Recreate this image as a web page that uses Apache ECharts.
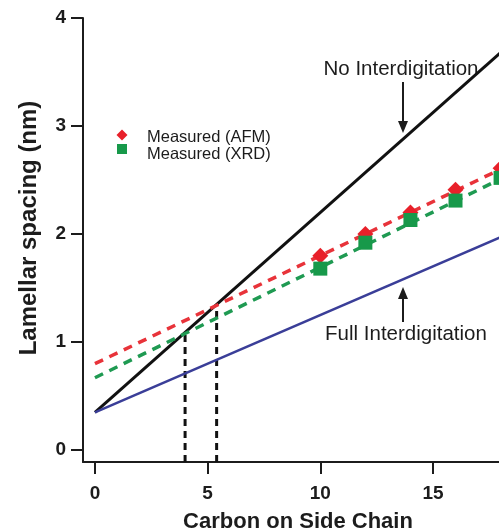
<!DOCTYPE html>
<html>
<head>
<meta charset="utf-8">
<script src="https://cdn.jsdelivr.net/npm/echarts@6/dist/echarts.min.js"></script>
<style>
  html, body { margin: 0; padding: 0; background: #fff; }
  #chart { width: 499px; height: 531px; }
</style>
</head>
<body>
<div id="chart"></div>
<script>
// Tick positions
const xTicks = [0, 5, 10, 15];
const yTicks = [0, 1, 2, 3, 4];

// Measured lamellar spacing vs. number of side-chain carbons
const chainCarbons = [10, 12, 14, 16, 18];
const afmSpacing = [1.80, 2.00, 2.20, 2.41, 2.61];
const xrdSpacing = [1.68, 1.92, 2.13, 2.31, 2.52];

// Model lines and linear fits, given at both ends of the carbon range
const lineX = [0, 18];
const noInterY = [0.35, 3.68];
const fullInterY = [0.35, 1.97];
const afmFitY = [0.80, 2.60];
const xrdFitY = [0.67, 2.51];

// Crossover of the fits with the no-interdigitation line
const crossX = [4.0, 5.4];
const crossY = [1.08, 1.34];

const xMin = -0.53, xMax = 17.93;
const yMin = -0.11, yMax = 4;

const FONT = '"Liberation Sans", Arial, sans-serif';
const INK = '#1c1c1c';
const RED = '#e8202a';
const GREEN = '#17994a';

function pairs(xs, ys) { return xs.map((x, i) => [x, ys[i]]); }

const chart = echarts.init(document.getElementById('chart'), null, { renderer: 'canvas' });

const lineSeries = (name, ys, color, width, dashed, z) => ({
  name, type: 'line', data: pairs(lineX, ys), symbol: 'none', silent: true, z,
  lineStyle: { color, width, type: dashed ? [9, 7] : 'solid', cap: 'butt' }
});

const dropLines = crossX.map((x, i) => ({
  name: 'cross' + i, type: 'line', symbol: 'none', silent: true, z: 1,
  data: [[x, yMin], [x, crossY[i]]],
  lineStyle: { color: '#111', width: 3, type: [7, 5] }
}));

// Key for the two measured series
const legendKey = [
  { type: 'polygon', shape: { points: [[122, 129.5], [127.5, 135], [122, 140.5], [116.5, 135]] }, style: { fill: RED } },
  { type: 'rect', shape: { x: 117, y: 144, width: 10, height: 10 }, style: { fill: GREEN } },
  { type: 'text', x: 147, y: 137,
    style: { text: 'Measured (AFM)', font: '16.5px ' + FONT, fill: INK, align: 'left', verticalAlign: 'middle' } },
  { type: 'text', x: 147, y: 154,
    style: { text: 'Measured (XRD)', font: '16.5px ' + FONT, fill: INK, align: 'left', verticalAlign: 'middle' } }
];

chart.setOption({
  animation: false,
  backgroundColor: '#fff',
  grid: { left: 83, top: 18, right: 0, bottom: 69, containLabel: false, outerBoundsMode: 'none' },
  xAxis: {
    type: 'value', min: xMin, max: xMax,
    axisLine: { show: true, onZero: false, lineStyle: { color: INK, width: 2 } },
    axisTick: { show: true, length: 12, customValues: xTicks, lineStyle: { color: INK, width: 2 } },
    axisLabel: { customValues: xTicks, margin: 22, color: INK, fontFamily: FONT, fontSize: 19, fontWeight: 'bold' },
    splitLine: { show: false }
  },
  yAxis: {
    type: 'value', min: yMin, max: yMax,
    axisLine: { show: true, onZero: false, lineStyle: { color: INK, width: 2 } },
    axisTick: { show: true, length: 12, customValues: yTicks, lineStyle: { color: INK, width: 2 } },
    axisLabel: { customValues: yTicks, margin: 17, color: INK, fontFamily: FONT, fontSize: 19, fontWeight: 'bold' },
    splitLine: { show: false }
  },
  series: [
    ...dropLines,
    lineSeries('noInter', noInterY, '#111111', 3, false, 2),
    lineSeries('fullInter', fullInterY, '#3a3e98', 2.5, false, 2),
    lineSeries('afmFit', afmFitY, '#e8333a', 3.5, true, 3),
    lineSeries('xrdFit', xrdFitY, '#1f9a52', 3.5, true, 3),
    {
      name: 'Measured (AFM)', type: 'scatter', symbol: 'diamond', symbolSize: 16,
      clip: false, z: 4, data: pairs(chainCarbons, afmSpacing), itemStyle: { color: RED, opacity: 1 }
    },
    {
      name: 'Measured (XRD)', type: 'scatter', symbol: 'rect', symbolSize: 14,
      clip: false, z: 5, data: pairs(chainCarbons, xrdSpacing), itemStyle: { color: GREEN, opacity: 1 }
    }
  ],
  graphic: [
    ...legendKey,
    { type: 'text', x: 29, y: 228, rotation: Math.PI / 2,
      style: { text: 'Lamellar spacing (nm)', font: 'bold 24px ' + FONT, fill: INK, align: 'center', verticalAlign: 'middle' } },
    { type: 'text', x: 298, y: 522,
      style: { text: 'Carbon on Side Chain', font: 'bold 22px ' + FONT, fill: INK, align: 'center', verticalAlign: 'middle' } },
    { type: 'text', x: 401, y: 69,
      style: { text: 'No Interdigitation', font: '20.5px ' + FONT, fill: INK, align: 'center', verticalAlign: 'middle' } },
    { type: 'text', x: 406, y: 334,
      style: { text: 'Full Interdigitation', font: '20.5px ' + FONT, fill: INK, align: 'center', verticalAlign: 'middle' } },
    // arrow pointing down to the no-interdigitation line
    { type: 'line', shape: { x1: 403, y1: 82, x2: 403, y2: 124 }, style: { stroke: INK, lineWidth: 2 } },
    { type: 'polygon', shape: { points: [[398, 121], [408, 121], [403, 133]] }, style: { fill: INK } },
    // arrow pointing up to the full-interdigitation line
    { type: 'line', shape: { x1: 403, y1: 322, x2: 403, y2: 296 }, style: { stroke: INK, lineWidth: 2 } },
    { type: 'polygon', shape: { points: [[398, 299], [408, 299], [403, 287]] }, style: { fill: INK } }
  ]
});
</script>
</body>
</html>
